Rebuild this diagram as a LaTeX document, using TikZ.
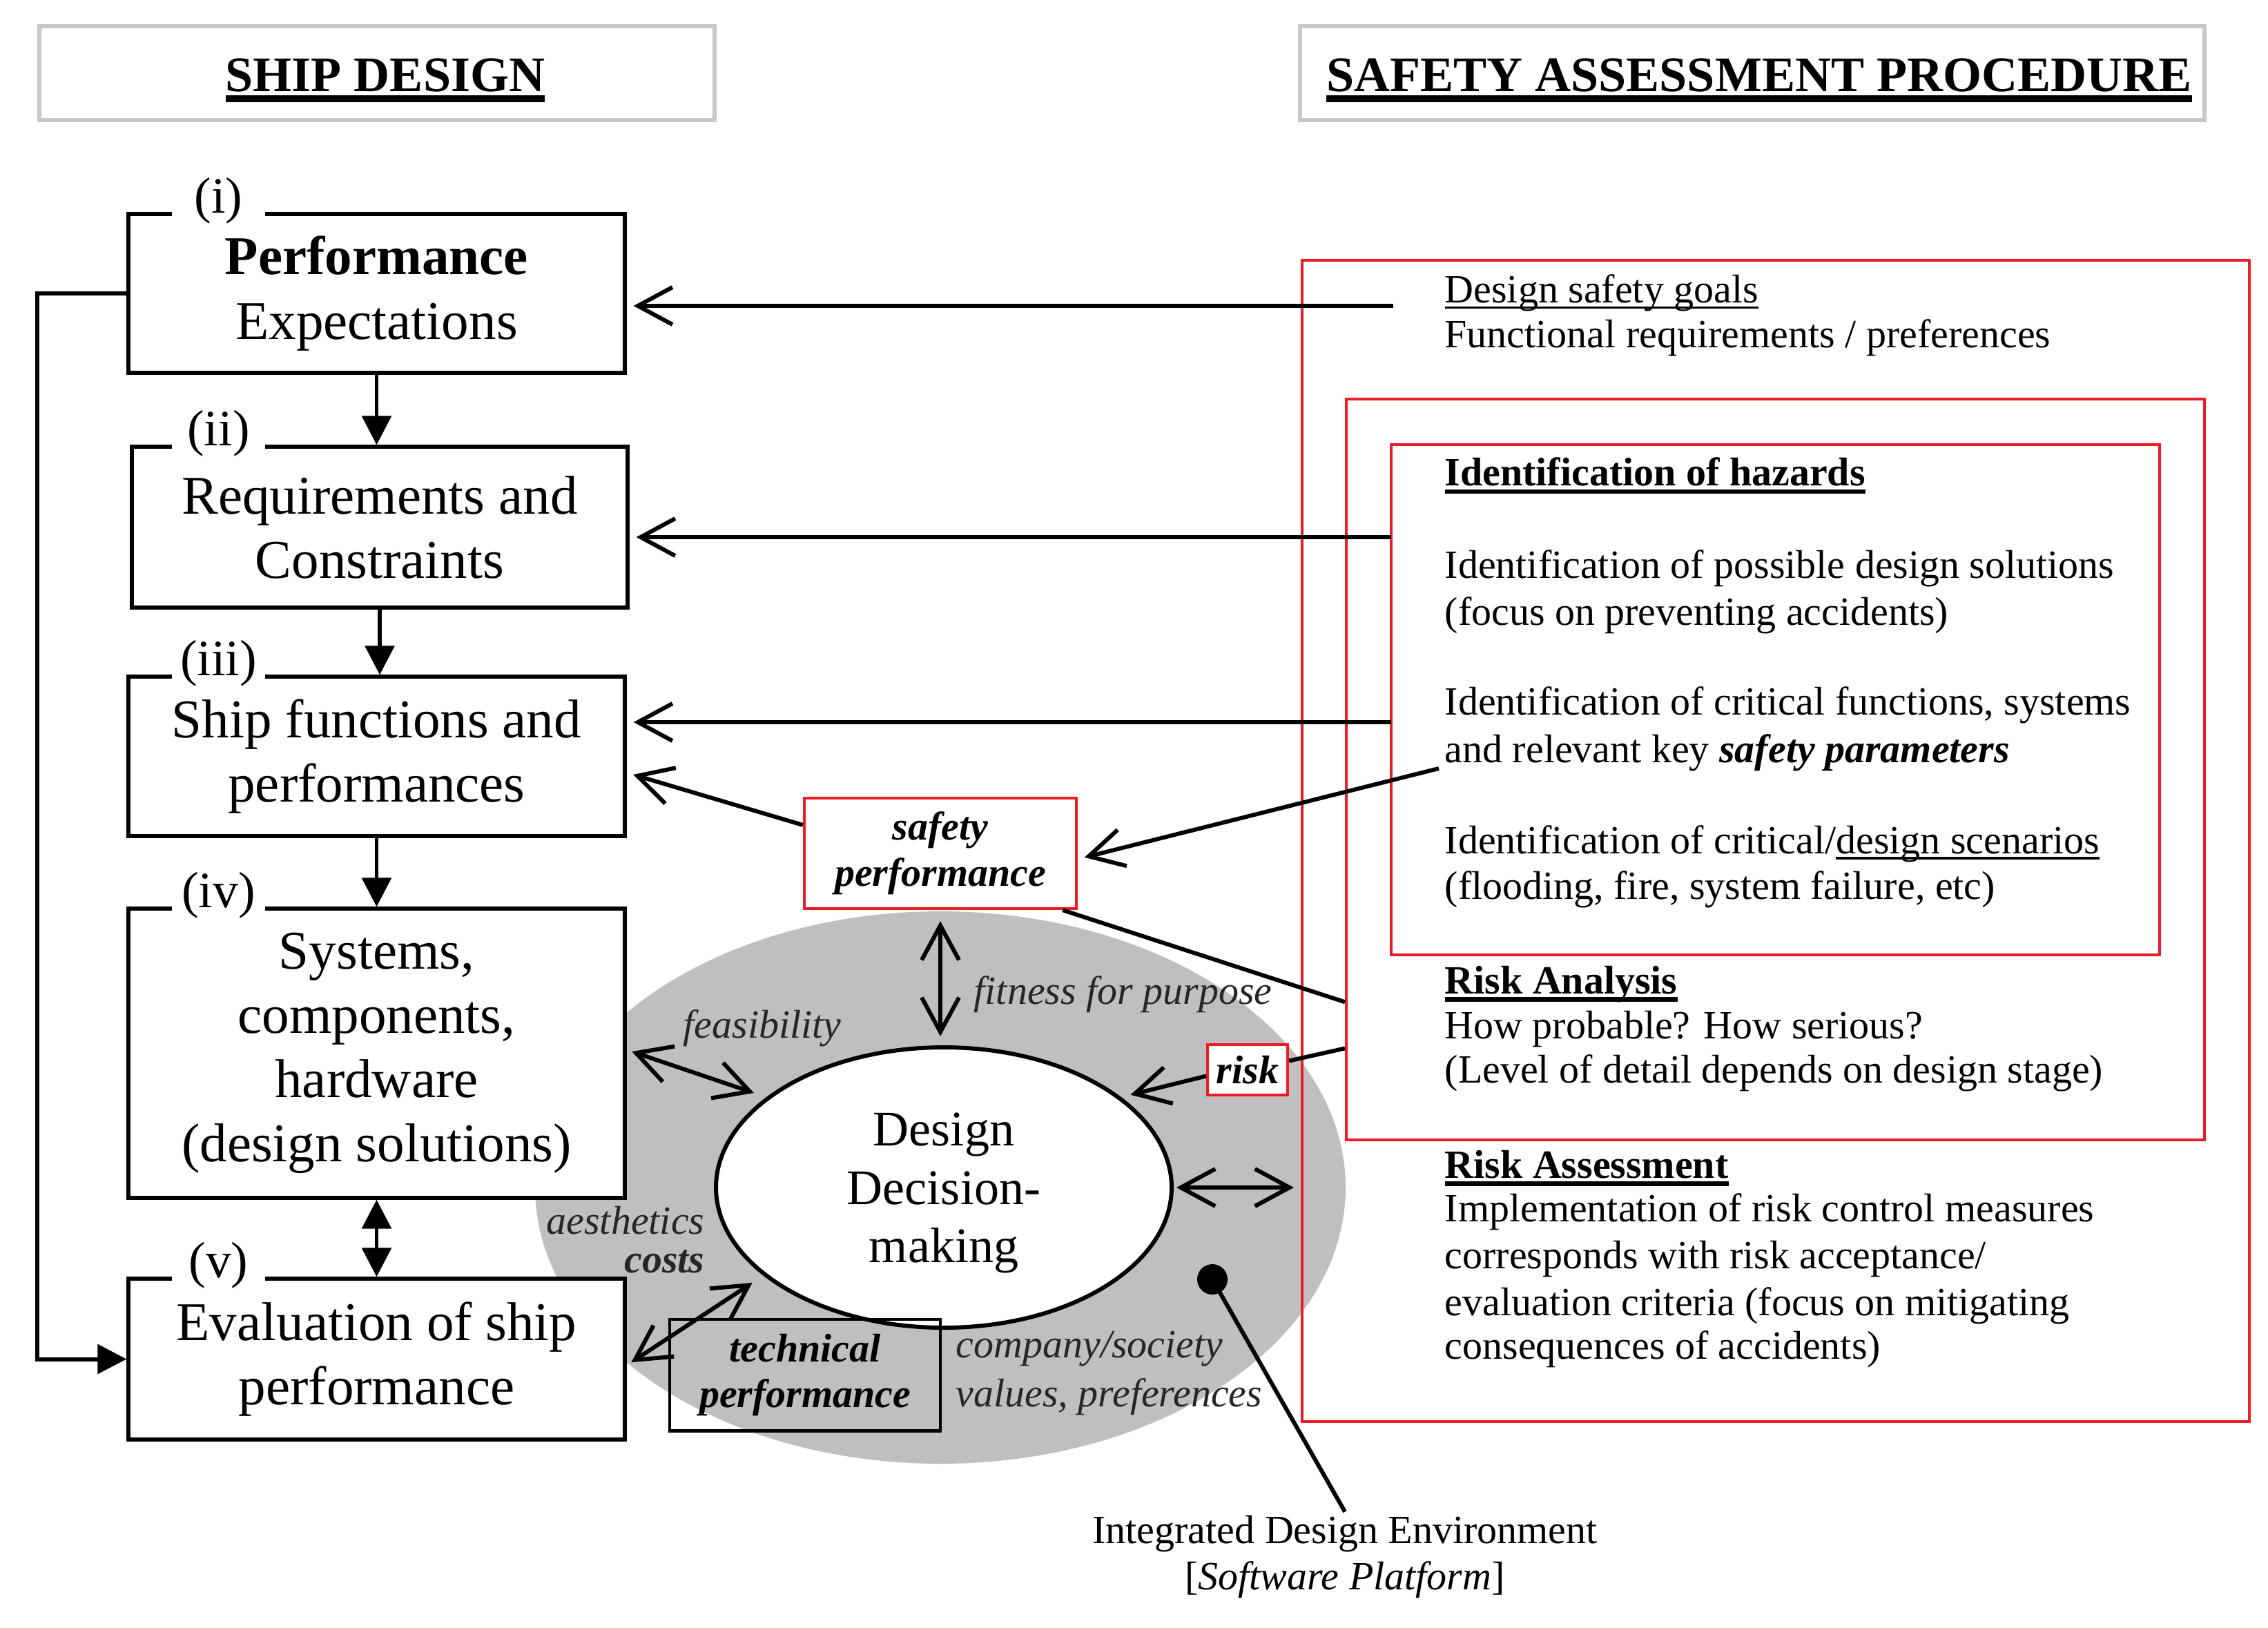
\documentclass[tikz,border=0pt]{standalone}
\usepackage{fontspec}
\setmainfont{Liberation Serif}
\usetikzlibrary{arrows.meta,calc,shapes.geometric}
\definecolor{rboxc}{RGB}{237,28,36}
\definecolor{elgray}{RGB}{191,191,191}
\definecolor{ttlgray}{RGB}{200,200,200}
\newsavebox\ulbox
\newcommand\ulx[3]{\leavevmode\sbox\ulbox{#3}\rlap{\vrule height -#1 depth #2 width \wd\ulbox}\usebox\ulbox}
\newcommand\myrf{\fontsize{16.5}{19}\selectfont}
\newcommand\mybxf{\fontsize{22.5}{26.5}\selectfont}
\newcommand\mylbf{\fontsize{21}{25}\selectfont}
\newcommand\myttf{\fontsize{20.5}{25}\selectfont\bfseries}
\newcommand\myddf{\fontsize{20.5}{24}\selectfont}
\begin{document}
\begin{tikzpicture}[x=1cm,y=-1cm,
  conn/.style={line width=1.7pt},
  tri/.style={conn,-{Triangle[length=4.2mm,width=4.2mm]}},
  dtri/.style={conn,{Triangle[length=4.2mm,width=4.2mm]}-{Triangle[length=4.2mm,width=4.2mm]}},
  oarr/.style={conn,-{Straight Barb[length=5mm,width=5.4mm]}},
  doarr/.style={conn,{Straight Barb[length=5mm,width=5.4mm]}-{Straight Barb[length=5mm,width=5.4mm]}},
  lbox/.style={draw,line width=1.5pt,fill=white,minimum width=7.19cm,align=center,font=\mybxf,inner sep=0pt},
  lab/.style={fill=white,inner sep=0pt,minimum width=1.35cm,font=\mylbf},
  rbox/.style={draw=rboxc,line width=1.15pt,inner sep=0pt},
  ttl/.style={draw=ttlgray,line width=1.5pt,minimum height=1.36cm,inner sep=0pt},
  rt/.style={anchor=base west,inner sep=0pt,font=\myrf},
  gl/.style={inner sep=0pt,font=\myrf\itshape,text=black!85}]
\useasboundingbox (0,0) rectangle (32.85,23.57);
% grey environment
\fill[elgray] (13.62,17.20) ellipse [x radius=5.87cm, y radius=4.00cm];
% titles
\node[ttl,minimum width=9.78cm] (t1) at (5.46,1.06) {};
\node[anchor=base,inner sep=0pt,font=\myttf] (t1t) at (5.58,1.32) {\ulx{1.8pt}{4.6pt}{SHIP DESIGN}};
\node[ttl,minimum width=13.10cm] (t2) at (25.38,1.06) {};
\node[anchor=base,inner sep=0pt,font=\myttf] (t2t) at (25.48,1.32) {\ulx{1.8pt}{4.6pt}{SAFETY ASSESSMENT PROCEDURE}};
% red frames
\node[rbox,minimum width=13.72cm,minimum height=16.82cm] (ro) at (25.72,12.18) {};
\node[rbox,minimum width=12.43cm,minimum height=10.73cm] (rm) at (25.715,11.145) {};
\node[rbox,minimum width=11.13cm,minimum height=7.39cm] (hz) at (25.715,10.135) {};
% left boxes
\node[lbox,minimum height=2.30cm] (b1) at (5.455,4.25) {\textbf{Performance}\\Expectations};
\node[lbox,minimum height=2.33cm,minimum width=7.18cm] (b2) at (5.50,7.635) {Requirements and\\Constraints};
\node[lbox,minimum height=2.31cm] (b3) at (5.455,10.955) {Ship functions and\\performances};
\node[lbox,minimum height=4.19cm] (b4) at (5.455,15.255) {Systems,\\components,\\hardware\\(design solutions)};
\node[lbox,minimum height=2.33cm] (b5) at (5.455,19.685) {Evaluation of ship\\performance};
\node[lab] (l1) at (3.165,2.91) {(i)};
\node[lab] (l2) at (3.165,6.28) {(ii)};
\node[lab] (l3) at (3.165,9.61) {(iii)};
\node[lab] (l4) at (3.165,12.97) {(iv)};
\node[lab] (l5) at (3.165,18.33) {(v)};
% left chain arrows
\draw[tri] (b1.south) -- (b1.south |- b2.north);
\draw[tri] (b2.south) -- (b2.south |- b3.north);
\draw[tri] (b3.south) -- (b3.south |- b4.north);
\draw[dtri] (b4.south) -- (b4.south |- b5.north);
\draw[tri] (b1.west) -- ++(-1.29,0) |- (b5.west);
% right panel texts
\node[rt] (r1) at (20.92,4.38) {\ulx{1.7pt}{2.5pt}{Design safety goals}};
\node[rt] (r2) at (20.92,5.03) {Functional requirements / preferences};
\node[rt] (r3) at (20.92,7.03) {\ulx{1.6pt}{3.4pt}{\textbf{Identification of hazards}}};
\node[rt] (r4) at (20.92,8.37) {Identification of possible design solutions};
\node[rt] (r5) at (20.92,9.05) {(focus on preventing accidents)};
\node[rt] (r6) at (20.92,10.35) {Identification of critical functions, systems};
\node[rt] (r7) at (20.92,11.04) {and relevant key \textbf{\textit{safety parameters}}};
\node[rt] (r8) at (20.92,12.36) {Identification of critical/\ulx{1.5pt}{2.6pt}{design scenarios}};
\node[rt] (r9) at (20.92,13.02) {(flooding, fire, system failure, etc)};
\node[rt] (r10) at (20.92,14.39) {\ulx{1.5pt}{3.3pt}{\textbf{Risk Analysis}}};
\node[rt] (r11) at (20.92,15.04) {How probable? How serious?};
\node[rt] (r12) at (20.92,15.68) {(Level of detail depends on design stage)};
\node[rt] (r13) at (20.92,17.06) {\ulx{1.5pt}{3.3pt}{\textbf{Risk Assessment}}};
\node[rt] (r14) at (20.92,17.69) {Implementation of risk control measures};
\node[rt] (r15) at (20.92,18.37) {corresponds with risk acceptance/};
\node[rt] (r16) at (20.92,19.05) {evaluation criteria (focus on mitigating};
\node[rt] (r17) at (20.92,19.68) {consequences of accidents)};
% central nodes
\node[draw=rboxc,line width=1.2pt,fill=white,minimum width=3.94cm,minimum height=1.60cm,align=center,inner sep=0pt,font=\myrf\bfseries\itshape] (sp) at (13.62,12.36) {safety\\performance};
\node[draw=rboxc,line width=1.2pt,fill=white,minimum width=1.16cm,minimum height=0.73cm,inner sep=0pt,font=\myrf\bfseries\itshape] (rk) at (18.07,15.495) {risk};
\node[ellipse,draw,line width=1.7pt,fill=white,minimum width=6.60cm,minimum height=4.06cm,inner sep=0pt] (ddm) at (13.67,17.20) {};
\node[align=center,inner sep=0pt,font=\myddf] (ddmt) at (13.67,17.28) {Design\\Decision-\\making};
\node[draw,line width=1.4pt,minimum width=3.92cm,minimum height=1.61cm,align=center,inner sep=0pt,font=\myrf\bfseries\itshape] (tp) at (11.66,19.915) {technical\\performance};
\node[circle,fill,inner sep=0pt,minimum size=0.44cm] (dot) at (17.56,18.53) {};
\node[align=center,inner sep=0.05cm,font=\myrf] (ide) at (19.48,22.55) {Integrated Design Environment\\{[}\textit{Software Platform}{]}};
% labels on grey
\node[gl,anchor=base west] (fit) at (14.10,14.54) {fitness for purpose};
\node[gl,anchor=base west] (fea) at (9.89,15.03) {feasibility};
\node[gl,anchor=base east] (aes) at (10.21,17.87) {aesthetics};
\node[gl,anchor=base east] (cos) at (10.21,18.43) {\textbf{costs}};
\node[gl,anchor=base west] (com) at (13.84,19.66) {company/society};
\node[gl,anchor=base west] (val) at (13.84,20.37) {values, preferences};
% connectors from the safety procedure
\coordinate (s1) at (20.18,4.43);
\coordinate (s2) at (20.15,7.78);
\coordinate (s3) at (20.15,10.46);
\coordinate (sparam) at (20.84,11.13);
\draw[oarr,shorten >=1mm] (s1) -- (s1 -| b1.east);
\draw[oarr,shorten >=1mm] (s2) -- (s2 -| b2.east);
\draw[oarr,shorten >=1mm] (s3) -- (s3 -| b3.east);
\draw[oarr,shorten >=1mm] ($(sp.north west)!0.25!(sp.south west)$) -- ($(b3.north east)!0.60!(b3.south east)$);
\draw[oarr,shorten >=1mm] (sparam) -- ($(sp.north east)!0.55!(sp.south east)$);
\draw[conn] ($(sp.south east)+(-0.22,0)$) -- ($(rm.north west)!0.8127!(rm.south west)$);
\draw[oarr,shorten >=0.14cm] ($(rk.west)+(0,0.09)$) -- (ddm.27);
\draw[conn] ($(rk.east)+(0,-0.13)$) -- ($(rm.north west)!0.875!(rm.south west)$);
\draw[doarr,shorten <=0.04cm,shorten >=0.1cm] (ddm.east) -- (ddm.east -| ro.west);
\draw[doarr,shorten <=0.16cm,shorten >=0.13cm] (sp.south) -- (sp.south |- ddm.north);
\draw[doarr,shorten <=0.08cm,shorten >=0.19cm] ($(b4.east)+(0,-0.05)$) -- (ddm.153.6);
\draw[doarr,shorten <=0.08cm,shorten >=0.19cm] ($(b5.east)+(0,0.09)$) -- (ddm.206.9);
\draw[conn] (dot.center) -- (ide.north);
\end{tikzpicture}
\end{document}
